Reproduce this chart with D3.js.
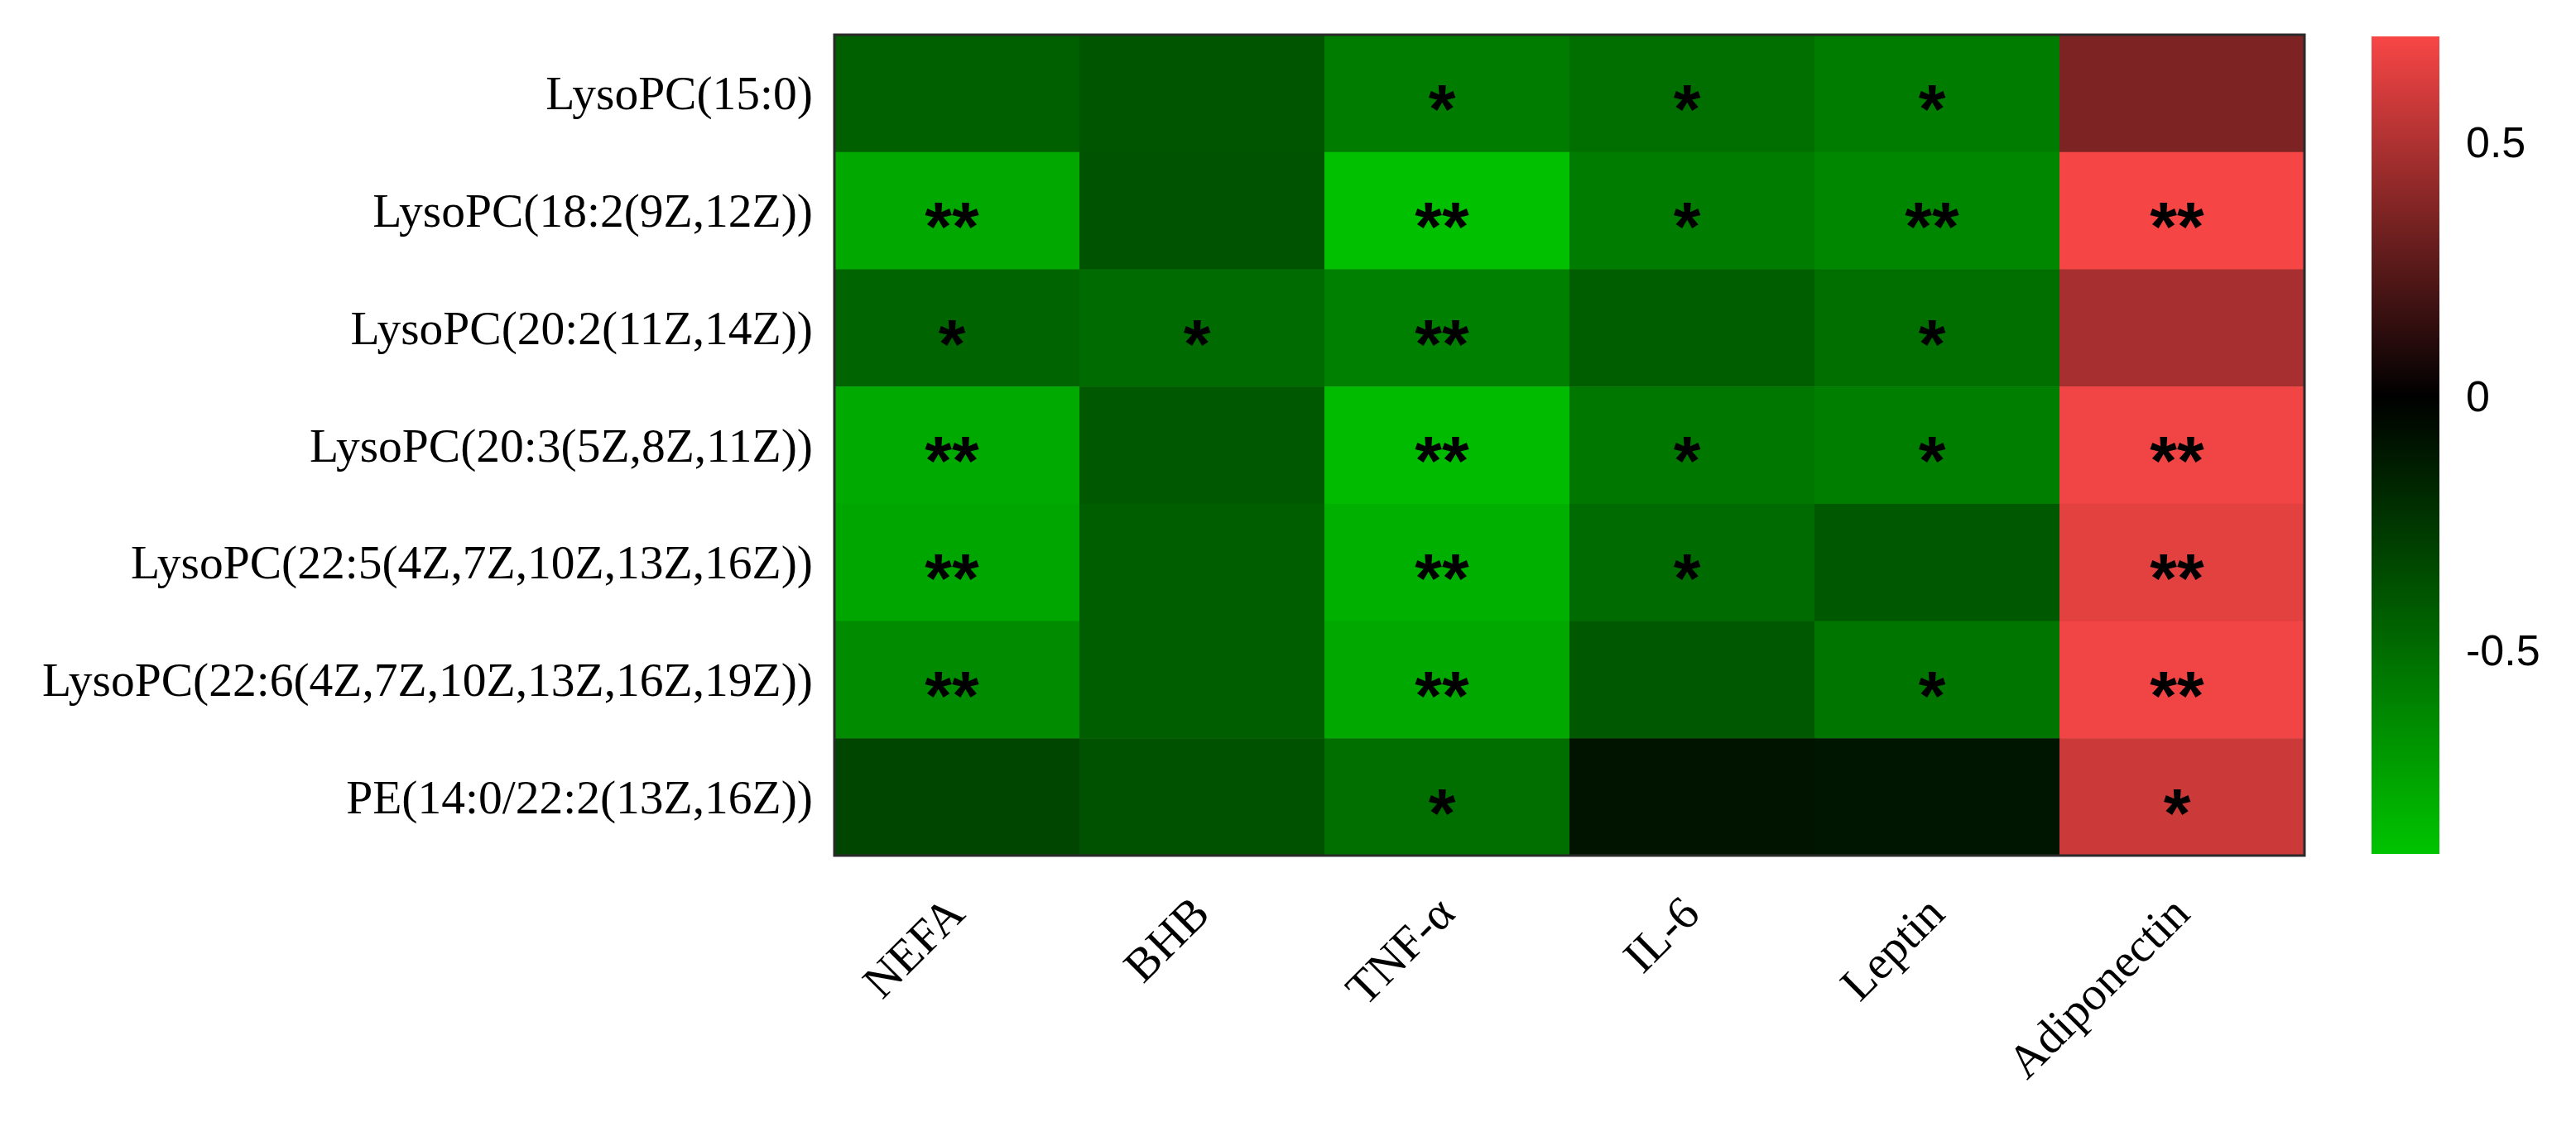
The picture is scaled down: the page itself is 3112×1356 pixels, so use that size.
<!DOCTYPE html>
<html>
<head>
<meta charset="utf-8">
<script src="https://cdn.jsdelivr.net/npm/d3@7"></script>
<style>
  body { margin: 0; background: #fff; }
</style>
</head>
<body>
<script>
// rows (metabolites) and columns (clinical indices)
var metabolites = [
  "LysoPC(15:0)",
  "LysoPC(18:2(9Z,12Z))",
  "LysoPC(20:2(11Z,14Z))",
  "LysoPC(20:3(5Z,8Z,11Z))",
  "LysoPC(22:5(4Z,7Z,10Z,13Z,16Z))",
  "LysoPC(22:6(4Z,7Z,10Z,13Z,16Z,19Z))",
  "PE(14:0/22:2(13Z,16Z))"
];
var indices = ["NEFA", "BHB", "TNF-\u03b1", "IL-6", "Leptin", "Adiponectin"];

// correlation coefficients, one array per metabolite
var lysoPC150   = [-0.44, -0.39, -0.57, -0.51, -0.57, 0.36];
var lysoPC182   = [-0.77, -0.38, -0.88, -0.57, -0.62, 0.70];
var lysoPC202   = [-0.46, -0.49, -0.59, -0.43, -0.51, 0.48];
var lysoPC203   = [-0.78, -0.41, -0.86, -0.55, -0.58, 0.69];
var lysoPC225   = [-0.76, -0.43, -0.81, -0.49, -0.41, 0.65];
var lysoPC226   = [-0.64, -0.43, -0.77, -0.41, -0.54, 0.69];
var pe140222    = [-0.32, -0.37, -0.51, -0.09, -0.10, 0.58];
var values = [lysoPC150, lysoPC182, lysoPC202, lysoPC203, lysoPC225, lysoPC226, pe140222];

// significance marks
var stars = [
  ["",   "",  "*",  "*", "*",  ""],
  ["**", "",  "**", "*", "**", "**"],
  ["*",  "*", "**", "",  "*",  ""],
  ["**", "",  "**", "*", "*",  "**"],
  ["**", "",  "**", "*", "",   "**"],
  ["**", "",  "**", "",  "*",  "**"],
  ["",   "",  "*",  "",  "",   "*"]
];

var colorDomain = [-0.9, 0, 0.71];
var colorTicks = [0.5, 0, -0.5];

var w = 3112, h = 1356;
var hmLeft = 1008, hmRight = 2784, hmTop = 42, hmBottom = 1034;

var svg = d3.select("body").append("svg")
  .attr("width", w)
  .attr("height", h);

var x = d3.scaleBand().domain(indices).range([hmLeft, hmRight]);
var y = d3.scaleBand().domain(metabolites).range([hmTop, hmBottom]);
var color = d3.scaleLinear()
  .domain(colorDomain)
  .range(["#00c400", "#000000", "#f84646"]);

var cells = [];
values.forEach(function(row, i) {
  row.forEach(function(v, j) {
    cells.push({ r: metabolites[i], c: indices[j], v: v, s: stars[i][j] });
  });
});

svg.selectAll("rect.cell")
  .data(cells)
  .enter()
  .append("rect")
  .attr("class", "cell")
  .attr("x", d => x(d.c))
  .attr("y", d => y(d.r))
  .attr("width", x.bandwidth() + 0.5)
  .attr("height", y.bandwidth() + 0.5)
  .attr("fill", d => color(d.v));

svg.append("rect")
  .attr("x", hmLeft)
  .attr("y", hmTop)
  .attr("width", hmRight - hmLeft)
  .attr("height", hmBottom - hmTop)
  .attr("fill", "none")
  .attr("stroke", "#2a2a2a")
  .attr("stroke-width", 3);

var starSize = 84;
svg.selectAll("text.star")
  .data(cells.filter(d => d.s))
  .enter()
  .append("text")
  .attr("class", "star")
  .attr("x", d => x(d.c) + x.bandwidth() / 2 - 6)
  .attr("y", d => y(d.r) + y.bandwidth() / 2 + starSize * 0.577)
  .attr("text-anchor", "middle")
  .attr("font-family", "Liberation Sans, Arial, sans-serif")
  .attr("font-weight", "bold")
  .attr("font-size", starSize)
  .attr("fill", "#000")
  .text(d => d.s);

// row labels
svg.append("g")
  .attr("transform", "translate(" + (hmLeft - 26) + ",0)")
  .call(d3.axisLeft(y).tickSize(0).tickPadding(0))
  .call(g => g.select(".domain").remove())
  .selectAll("text")
  .attr("font-family", "Liberation Serif, Times New Roman, serif")
  .attr("font-size", 57.5)
  .attr("fill", "#000")
  .attr("dy", "0.34em");

// column labels, rotated
svg.append("g")
  .attr("transform", "translate(0," + hmBottom + ")")
  .call(d3.axisBottom(x).tickSize(0).tickPadding(0))
  .call(g => g.select(".domain").remove())
  .selectAll("text")
  .attr("font-family", "Liberation Serif, Times New Roman, serif")
  .attr("font-size", 57)
  .attr("fill", "#000")
  .attr("text-anchor", "end")
  .attr("dy", 0)
  .attr("transform", "translate(12,73) rotate(-45)");

// colour bar
var barX = 2865, barW = 82, barTop = 44, barBottom = 1032;
var yc = d3.scaleLinear()
  .domain([colorDomain[2], colorDomain[0]])
  .range([barTop, barBottom]);

var grad = svg.append("defs").append("linearGradient")
  .attr("id", "cbar")
  .attr("x1", 0).attr("y1", 0)
  .attr("x2", 0).attr("y2", 1);
grad.selectAll("stop")
  .data(colorDomain.slice().reverse())
  .enter()
  .append("stop")
  .attr("offset", d => (yc(d) - barTop) / (barBottom - barTop))
  .attr("stop-color", d => color(d));

svg.append("rect")
  .attr("x", barX)
  .attr("y", barTop)
  .attr("width", barW)
  .attr("height", barBottom - barTop)
  .attr("fill", "url(#cbar)");

svg.append("g")
  .attr("transform", "translate(" + (barX + barW + 32) + ",0)")
  .call(d3.axisRight(yc).tickValues(colorTicks).tickSize(0).tickPadding(0)
    .tickFormat(d => d === 0 ? "0" : String(d)))
  .call(g => g.select(".domain").remove())
  .selectAll("text")
  .attr("font-family", "Liberation Sans, Arial, sans-serif")
  .attr("font-size", 52)
  .attr("fill", "#000");
</script>
</body>
</html>
